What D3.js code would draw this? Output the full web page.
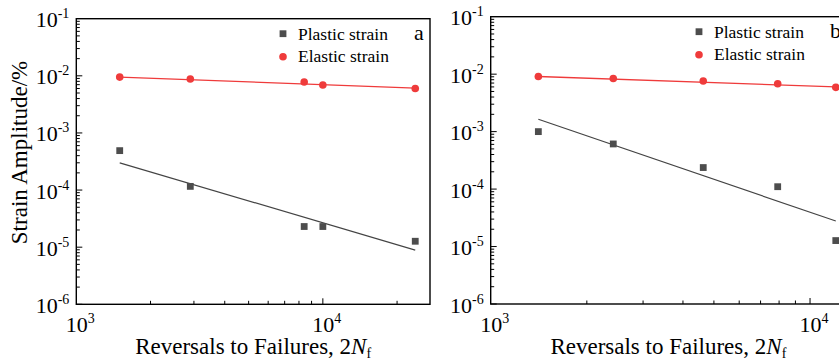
<!DOCTYPE html>
<html>
<head>
<meta charset="utf-8">
<script src="https://cdn.jsdelivr.net/npm/d3@7"></script>
<style>
  body { margin: 0; background: #fff; }
  svg { display: block; }
  text { font-family: "Liberation Serif", "Times New Roman", serif; fill: #000; }
</style>
</head>
<body>
<div id="chart"></div>
<script>
// values (cycles = 2Nf, strain amplitudes)
const cyclesA = [1500, 2900, 8400, 10000, 23700];
const elasticA = [0.0095, 0.0088, 0.0078, 0.0069, 0.0060];
const plasticA = [4.9e-4, 1.16e-4, 2.3e-5, 2.3e-5, 1.27e-5];
const elasticFitA = [[1500, 0.0095], [23700, 0.0061]];
const plasticFitA = [[1500, 3.0e-4], [23700, 8.9e-6]];

const cyclesB = [1410, 2420, 4630, 7920, 12040];
const elasticB = [0.0091, 0.0084, 0.0076, 0.0068, 0.0059];
const plasticB = [1.0e-3, 6.1e-4, 2.37e-4, 1.1e-4, 1.27e-5];
const elasticFitB = [[1410, 0.0091], [12040, 0.0060]];
const plasticFitB = [[1410, 1.64e-3], [12040, 2.78e-5]];

const yExponents = [-1, -2, -3, -4, -5, -6];
const xExponents = [3, 4];
const legendLabels = ['Plastic strain', 'Elastic strain'];

const RED = '#ef3b3b';
const DARK = '#4d4d4d';

const svg = d3.select('#chart').append('svg')
  .attr('width', 839)
  .attr('height', 361);

function powerLabel(g, exp, x, y, anchor) {
  const t = g.append('text')
    .attr('x', x)
    .attr('y', y)
    .attr('text-anchor', anchor)
    .style('font-size', '22px');
  t.append('tspan').text('10');
  t.append('tspan').attr('dy', -9).style('font-size', '14px').text(exp < 0 ? '-' + (-exp) : exp);
}

function drawPanel(p) {
  const g = svg.append('g');
  const x = d3.scaleLog().domain(p.xDomain).range([p.left, p.right]);
  const y = d3.scaleLog().domain([1e-6, 1e-1]).range([p.bottom, p.top]);

  // minor + major ticks, pointing inside
  const yTicks = [];
  for (let e = -6; e < -1; e++) {
    for (let m = 1; m < 10; m++) yTicks.push({ v: m * Math.pow(10, e), major: m === 1 });
  }
  g.selectAll('line.yt').data(yTicks).enter().append('line')
    .attr('x1', p.left).attr('x2', d => p.left + (d.major ? 6 : 3.5))
    .attr('y1', d => y(d.v)).attr('y2', d => y(d.v))
    .attr('stroke', '#000').attr('stroke-width', 1);

  const xTicks = [];
  for (let e = 3; e < 5; e++) {
    for (let m = 1; m < 10; m++) {
      const v = m * Math.pow(10, e);
      if (v > p.xDomain[0] && v < p.xDomain[1]) xTicks.push({ v: v, major: m === 1 });
    }
  }
  g.selectAll('line.xt').data(xTicks).enter().append('line')
    .attr('y1', p.bottom).attr('y2', d => p.bottom - (d.major ? 6 : 3.5))
    .attr('x1', d => x(d.v)).attr('x2', d => x(d.v))
    .attr('stroke', '#000').attr('stroke-width', 1);

  // frame
  g.append('rect')
    .attr('x', p.left).attr('y', p.top)
    .attr('width', p.right - p.left).attr('height', p.bottom - p.top)
    .attr('fill', 'none').attr('stroke', '#000').attr('stroke-width', 1.4);

  yExponents.forEach(e => powerLabel(g, e, p.left - 7, y(Math.pow(10, e)) + 8.5, 'end'));
  xExponents.forEach(e => powerLabel(g, e, x(Math.pow(10, e)) + 4, p.bottom + 28, 'middle'));

  // fit lines
  const line = d3.line().x(d => x(d[0])).y(d => y(d[1]));
  g.append('path').attr('d', line(p.plasticFit))
    .attr('fill', 'none').attr('stroke', '#444').attr('stroke-width', 1.2);
  g.append('path').attr('d', line(p.elasticFit))
    .attr('fill', 'none').attr('stroke', RED).attr('stroke-width', 1.4);

  // points
  g.selectAll('rect.pl').data(p.cycles).enter().append('rect')
    .attr('x', (d) => x(d) - 3.4)
    .attr('y', (d, i) => y(p.plastic[i]) - 3.4)
    .attr('width', 6.8).attr('height', 6.8)
    .attr('fill', DARK);
  g.selectAll('circle.el').data(p.cycles).enter().append('circle')
    .attr('cx', d => x(d))
    .attr('cy', (d, i) => y(p.elastic[i]))
    .attr('r', 3.8)
    .attr('fill', RED);

  // legend
  const lx = p.right - 147, ly = p.top + 15;
  g.append('rect').attr('x', lx - 3.4).attr('y', ly - 3.4).attr('width', 6.8).attr('height', 6.8).attr('fill', DARK);
  g.append('circle').attr('cx', lx).attr('cy', ly + 23).attr('r', 3.8).attr('fill', RED);
  legendLabels.forEach((s, i) => {
    g.append('text').attr('x', lx + 15).attr('y', ly + 6 + i * 22)
      .style('font-size', '17.5px').text(s);
  });

  g.append('text').attr('x', p.right - 16).attr('y', p.top + 21)
    .style('font-size', '22px').text(p.tag);

  // x title
  const xt = g.append('text')
    .attr('x', (p.left + p.right) / 2).attr('y', 354)
    .attr('text-anchor', 'middle')
    .style('font-size', '23px');
  xt.append('tspan').text('Reversals to Failures, 2');
  xt.append('tspan').style('font-style', 'italic').text('N');
  xt.append('tspan').attr('dy', 4).style('font-size', '14px').text('f');

  if (p.yTitle) {
    g.append('text')
      .attr('transform', 'translate(27,152.5) rotate(-90)')
      .attr('text-anchor', 'middle')
      .style('font-size', '23px')
      .text(p.yTitle);
  }
}

drawPanel({
  left: 76.3, right: 430, top: 18.7, bottom: 304.3,
  xDomain: [1000, 27200],
  cycles: cyclesA, elastic: elasticA, plastic: plasticA,
  elasticFit: elasticFitA, plasticFit: plasticFitA,
  tag: 'a', yTitle: 'Strain Amplitude/%'
});

drawPanel({
  left: 490.7, right: 846, top: 16.7, bottom: 304,
  xDomain: [1000, 12960],
  cycles: cyclesB, elastic: elasticB, plastic: plasticB,
  elasticFit: elasticFitB, plasticFit: plasticFitB,
  tag: 'b', yTitle: null
});
</script>
</body>
</html>
